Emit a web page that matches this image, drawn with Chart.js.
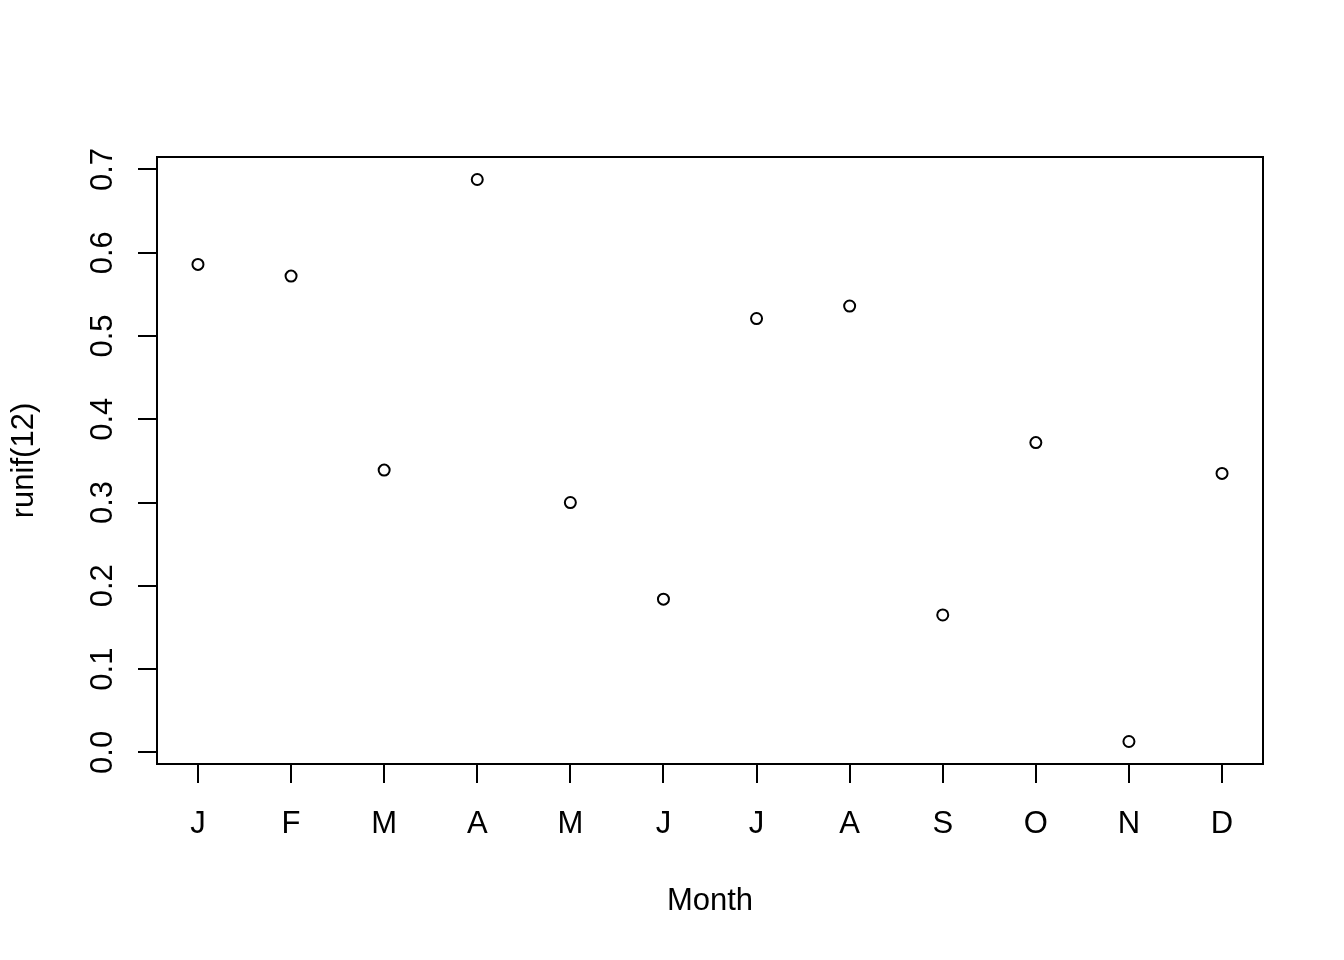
<!DOCTYPE html>
<html>
<head>
<meta charset="utf-8">
<script src="https://cdn.jsdelivr.net/npm/chart.js@4.4.1/dist/chart.umd.min.js"></script>
<style>
  html, body { margin: 0; padding: 0; background: #fff; }
  canvas { display: block; }
</style>
</head>
<body>
<canvas id="plot" width="1344" height="960"></canvas>
<script>
const months = ['J', 'F', 'M', 'A', 'M', 'J', 'J', 'A', 'S', 'O', 'N', 'D'];
const values = [0.586, 0.572, 0.339, 0.688, 0.300, 0.184, 0.521, 0.536, 0.165, 0.372, 0.013, 0.335];
const yTicks = [0.0, 0.1, 0.2, 0.3, 0.4, 0.5, 0.6, 0.7];
const xTitle = 'Month';
const yTitle = 'runif(12)';

const FONT = '31px "Liberation Sans", Arial, sans-serif';

// R style axis range: data range extended 4% each side
const lo = Math.min(...values), hi = Math.max(...values);
const pad = 0.04 * (hi - lo);
const xpad = 0.04 * (months.length - 1);

const rLabels = {
    id: 'rLabels',
    afterDraw(chart) {
        const ctx = chart.ctx;
        const xs = chart.scales.x, ys = chart.scales.y;
        const a = chart.chartArea;
        ctx.save();
        ctx.strokeStyle = '#000';
        ctx.lineWidth = 2;
        ctx.strokeRect(a.left, a.top, a.right - a.left, a.bottom - a.top);
        ctx.fillStyle = '#000';
        ctx.font = FONT;
        ctx.textAlign = 'center';
        ctx.textBaseline = 'alphabetic';
        months.forEach((m, i) => {
            ctx.fillText(m, xs.getPixelForValue(i + 1), 833);
        });
        ctx.fillText(xTitle, (a.left + a.right) / 2, 910);
        yTicks.forEach(v => {
            ctx.save();
            ctx.translate(112, ys.getPixelForValue(v));
            ctx.rotate(-Math.PI / 2);
            ctx.fillText(v.toFixed(1), 0, 0);
            ctx.restore();
        });
        ctx.translate(33, (a.top + a.bottom) / 2);
        ctx.rotate(-Math.PI / 2);
        ctx.fillText(yTitle, 0, 0);
        ctx.restore();
    }
};

new Chart(document.getElementById('plot'), {
    type: 'scatter',
    data: {
        datasets: [{
            data: values.map((v, i) => ({ x: i + 1, y: v })),
            pointStyle: 'circle',
            pointRadius: 5.5,
            pointBorderWidth: 2,
            borderColor: '#000',
            backgroundColor: 'rgba(0,0,0,0)',
            showLine: false
        }]
    },
    options: {
        responsive: false,
        animation: false,
        devicePixelRatio: 1,
        layout: { padding: { top: 157, right: 81, left: 0, bottom: 0 } },
        plugins: { legend: { display: false }, tooltip: { enabled: false } },
        scales: {
            x: {
                type: 'linear',
                min: 1 - xpad,
                max: months.length + xpad,
                afterBuildTicks: s => { s.ticks = months.map((m, i) => ({ value: i + 1 })); },
                afterFit: s => { s.height = 196; },
                ticks: { display: false },
                grid: { drawOnChartArea: false, drawTicks: true, tickLength: 19, color: '#000', lineWidth: 2 },
                border: { display: true, color: '#000', width: 2 }
            },
            y: {
                type: 'linear',
                min: lo - pad,
                max: hi + pad,
                afterBuildTicks: s => { s.ticks = yTicks.map(v => ({ value: v })); },
                afterFit: s => { s.width = 157; },
                ticks: { display: false },
                grid: { drawOnChartArea: false, drawTicks: true, tickLength: 19, color: '#000', lineWidth: 2 },
                border: { display: true, color: '#000', width: 2 }
            }
        }
    },
    plugins: [rLabels]
});
</script>
</body>
</html>
